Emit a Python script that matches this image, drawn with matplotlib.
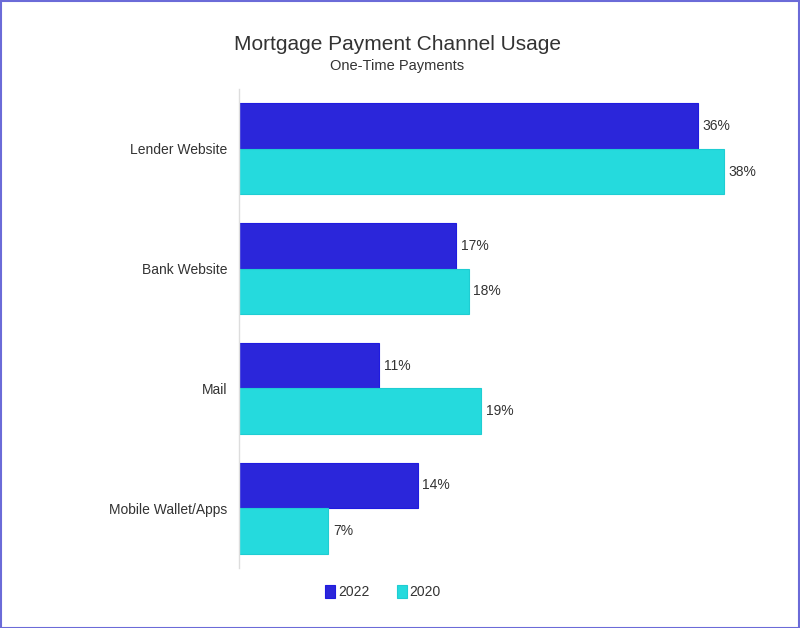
import matplotlib
matplotlib.use("Agg")
import matplotlib.pyplot as plt
import numpy as np
from matplotlib.patches import Rectangle

plt.rcParams['font.family'] = ['Liberation Sans', 'DejaVu Sans']

categories = ["Lender Website", "Bank Website", "Mail", "Mobile Wallet/Apps"]
series_names = ["2022", "2020"]
values_2022 = [36, 17, 11, 14]
values_2020 = [38, 18, 19, 7]
colors = ["#2B26DA", "#25DADD"]
edge_colors = ["#1F1BE0", "#1FCDD2"]

W, H = 800, 628
fig = plt.figure(figsize=(W / 100, H / 100), dpi=100)

ax_left, ax_right = 239, 749
ax_top, ax_bottom = 89, 568
ax = fig.add_axes([ax_left / W, 1 - ax_bottom / H, (ax_right - ax_left) / W, (ax_bottom - ax_top) / H])

n = len(categories)
y = np.arange(n)
bh = 0.38
text_color = "#333333"

for i, (vals, c, ec, name) in enumerate(zip([values_2022, values_2020], colors, edge_colors, series_names)):
    offs = -bh / 2 if i == 0 else bh / 2
    bars = ax.barh(y + offs, vals, height=bh, color=c, edgecolor=ec, linewidth=0.8, label=name)
    for b, v in zip(bars, vals):
        ax.annotate(f"{v}%", (b.get_width(), b.get_y() + b.get_height() / 2),
                    xytext=(3.5, 0), textcoords="offset points", va="center", ha="left",
                    fontsize=10, color=text_color)

ax.set_xlim(0, 40)
ax.set_ylim(n - 0.5, -0.5)
ax.set_yticks(y)
ax.set_yticklabels(categories, fontsize=10, color=text_color)
ax.tick_params(axis='y', length=0, pad=8.5)
ax.set_xticks([])
for s in ["top", "right", "bottom"]:
    ax.spines[s].set_visible(False)
ax.spines["left"].set_color("#DDDDDD")
ax.spines["left"].set_linewidth(1)

fig.text(397 / W, 1 - 45 / H, "Mortgage Payment Channel Usage", ha="center", va="center",
         fontsize=15, color=text_color)
fig.text(397 / W, 1 - 66 / H, "One-Time Payments", ha="center", va="center",
         fontsize=10.5, color=text_color)

leg = fig.legend(loc="center", bbox_to_anchor=(383 / W, 1 - 592 / H), ncol=2, frameon=False,
                 fontsize=10, handlelength=0.7, handleheight=1.1, handletextpad=0.2,
                 columnspacing=2.0, labelcolor=text_color)

fig.patches.append(Rectangle((0.5 / W, 0.5 / H), 1 - 1.5 / W, 1 - 1.5 / H, transform=fig.transFigure,
                             fill=False, edgecolor="#6B6BD8", linewidth=1.5))

fig.savefig("out.png", dpi=100)
